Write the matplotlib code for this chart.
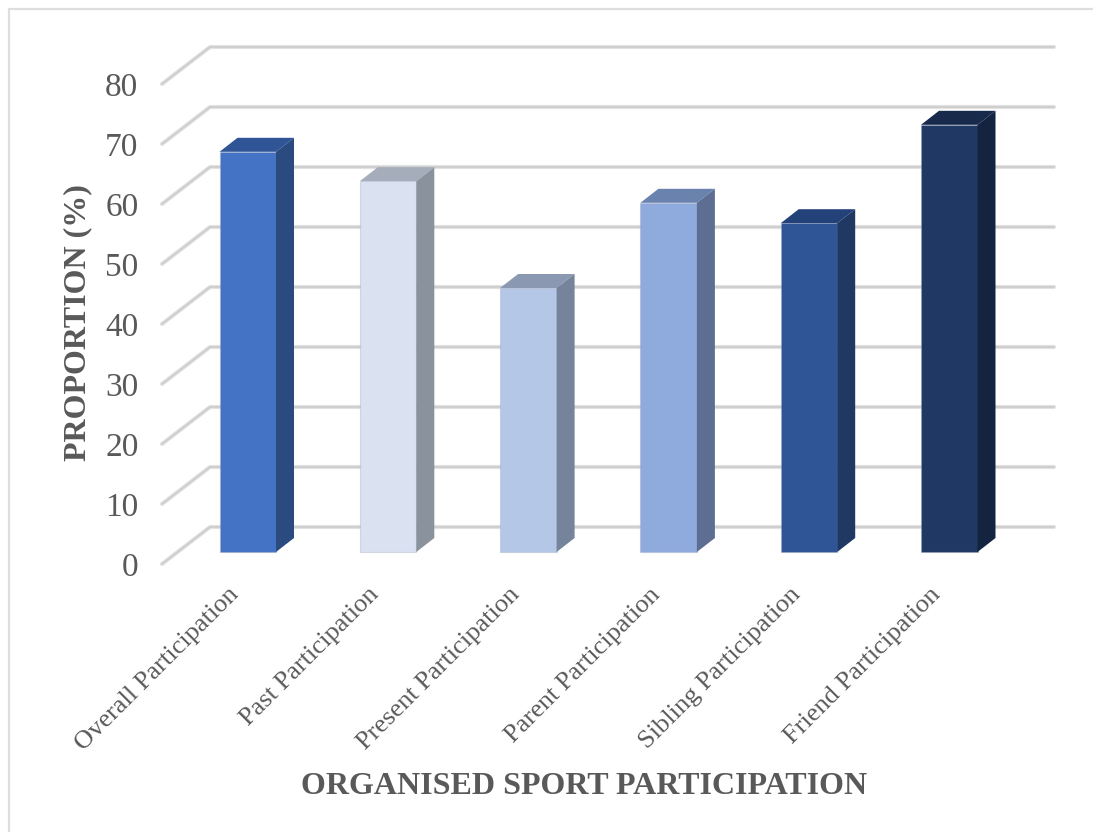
import matplotlib
matplotlib.use('Agg')
import matplotlib.pyplot as plt
from matplotlib.lines import Line2D
from matplotlib.patches import Polygon
from matplotlib.transforms import ScaledTranslation

categories = ['Overall Participation', 'Past Participation', 'Present Participation',
              'Parent Participation', 'Sibling Participation', 'Friend Participation']
values = [66.7, 61.8, 44.0, 58.2, 54.8, 71.2]
front_colors = ['#4472C4', '#DAE1F1', '#B4C7E7', '#8FAADC', '#2F5597', '#1F3864']
top_colors = ['#2F5597', '#A5ADBA', '#8A98B2', '#6A82AE', '#24427A', '#172A4C']
side_colors = ['#2A4A80', '#8A929E', '#75839B', '#5E6E92', '#1F3864', '#14233F']
y_ticks = [0, 10, 20, 30, 40, 50, 60, 70, 80]

GREY = '#595959'

# pixel layout of the reference
W, H = 1093, 832
PX_PER_CAT = 140.3
PX_PER_UNIT = 6.0
CENTER0 = 247.75
BASE_Y = 564


def px_x(p):
    return (p - CENTER0) / PX_PER_CAT


plt.rcParams['font.family'] = ['Liberation Serif', 'DejaVu Serif']

fig = plt.figure(figsize=(W / 100, H / 100), dpi=100)
ax = fig.add_axes([162 / W, (H - BASE_Y) / H, (1054 - 162) / W, (BASE_Y - 47) / H])
ax.set_xlim(px_x(162), px_x(1054))
ax.set_ylim(0, (BASE_Y - 47) / PX_PER_UNIT)
for s in ax.spines.values():
    s.set_visible(False)
ax.patch.set_visible(False)

# side wall + back wall gridlines, soft band with a darker core
wall_dy = 37 / PX_PER_UNIT
for t in y_ticks:
    wall_x = [px_x(162), px_x(210), px_x(1054)]
    wall_y = [t, t + wall_dy, t + wall_dy]
    ax.plot(wall_x, wall_y, color='#E2E2E2', lw=3.0, clip_on=False,
            solid_capstyle='round', zorder=1)
    ax.plot(wall_x, wall_y, color='#CDCDCD', lw=1.3, clip_on=False,
            solid_capstyle='round', zorder=1.1)

# bars: front face through ax.bar, then top and side faces
bar_w = 56.5 / PX_PER_CAT
depth_x = 18 / PX_PER_CAT
depth_y = 14 / PX_PER_UNIT
bar_base = 12 / PX_PER_UNIT
xs = list(range(len(categories)))
ax.bar(xs, values, width=bar_w, bottom=bar_base, color=front_colors,
       edgecolor=(0.6, 0.65, 0.75, 0.35), linewidth=0.8, zorder=3)
for x, v, tc, sc in zip(xs, values, top_colors, side_colors):
    left, right = x - bar_w / 2, x + bar_w / 2
    top = bar_base + v
    ax.add_patch(Polygon([(left, top), (right, top), (right + depth_x, top + depth_y),
                          (left + depth_x, top + depth_y)], color=tc, lw=0, zorder=3))
    ax.add_patch(Polygon([(right, bar_base), (right, top), (right + depth_x, top + depth_y),
                          (right + depth_x, bar_base + depth_y)], color=sc, lw=0, zorder=3))

ax.set_yticks(y_ticks)
ax.tick_params(axis='y', length=0, pad=17, labelsize=24, labelcolor=GREY)
ax.set_xticks(xs)
ax.set_xticklabels(categories, rotation=45, ha='right', va='top', rotation_mode='anchor')
ax.tick_params(axis='x', length=0, pad=14, labelsize=19, labelcolor=GREY)
# labels end left of the bar centre in the reference
shift = ScaledTranslation(-20 / 100, 0, fig.dpi_scale_trans)
for lab in ax.get_xticklabels():
    lab.set_transform(lab.get_transform() + shift)

fig.text(78 / W, 1 - 323 / H, 'PROPORTION (%)', rotation=90, ha='center', va='center',
         fontsize=23, fontweight='bold', color=GREY)
fig.text(584 / W, 1 - 787 / H, 'ORGANISED SPORT PARTICIPATION', ha='center', va='center',
         fontsize=23, fontweight='bold', color=GREY)

# thin frame round the chart area
fig.add_artist(Line2D([9 / W, 9 / W, 1], [0, 1 - 9 / H, 1 - 9 / H],
                      color='#DEDEDE', lw=1.6))

fig.savefig('out.png', dpi=100)
